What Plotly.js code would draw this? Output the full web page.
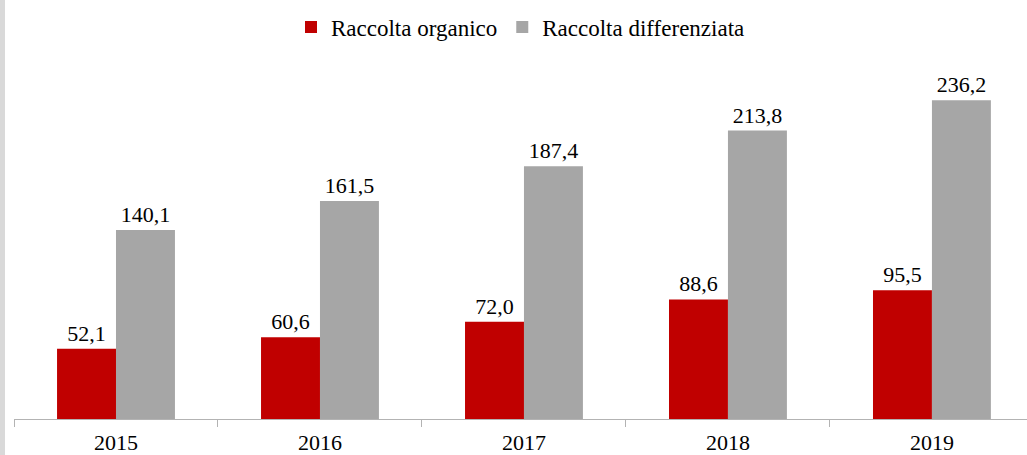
<!DOCTYPE html>
<html>
<head>
<meta charset="utf-8">
<script src="https://cdn.plot.ly/plotly-3.0.1.min.js"></script>
<style>
html, body { margin: 0; padding: 0; width: 1027px; height: 455px; overflow: hidden;
  background: linear-gradient(to right, #d9d9d9 0, #d9d9d9 5px, #ffffff 5px); }
#chart { width: 1027px; height: 455px; }
</style>
</head>
<body>
<div id="chart"></div>
<script>
const years = ["2015", "2016", "2017", "2018", "2019"];
const organico = [52.1, 60.6, 72.0, 88.6, 95.5];
const differenziata = [140.1, 161.5, 187.4, 213.8, 236.2];
const seriesNames = ["Raccolta organico", "Raccolta differenziata"];

const FONT = "Liberation Serif, DejaVu Serif, serif";

const traces = [
  {
    type: "bar", name: seriesNames[0], x: years, y: organico,
    marker: { color: "#c00000" },
    texttemplate: "%{y:.1f}", textposition: "outside", cliponaxis: false,
    textfont: { family: FONT, size: 22, color: "#000000" },
    hoverinfo: "skip"
  },
  {
    type: "bar", name: seriesNames[1], x: years, y: differenziata,
    marker: { color: "#a6a6a6" },
    texttemplate: "%{y:.1f}", textposition: "outside", cliponaxis: false,
    textfont: { family: FONT, size: 22, color: "#000000" },
    hoverinfo: "skip"
  }
];

const layout = {
  width: 1027, height: 455,
  margin: { l: 14, r: 0, t: 50, b: 36, pad: 0 },
  paper_bgcolor: "rgba(0,0,0,0)",
  plot_bgcolor: "rgba(0,0,0,0)",
  separators: ",.",
  barmode: "group",
  bargap: 0.422,
  bargroupgap: 0,
  font: { family: FONT, size: 22, color: "#000000" },
  showlegend: true,
  legend: {
    orientation: "h", x: 0.5, xanchor: "center", y: 1.062, yanchor: "middle",
    font: { family: FONT, size: 23, color: "#000000" },
    itemwidth: 30, tracegroupgap: 0
  },
  xaxis: {
    type: "category", range: [-0.5, 4.466],
    showline: true, linecolor: "#b3b3b3", linewidth: 1,
    ticks: "outside", tickson: "boundaries", ticklen: 7, tickcolor: "#b3b3b3", tickwidth: 1,
    ticklabelstandoff: 4,
    showgrid: false, zeroline: false,
    tickfont: { family: FONT, size: 22, color: "#000000" }
  },
  yaxis: {
    range: [0, 273.5], visible: false, showgrid: false, zeroline: false, fixedrange: true
  }
};

Plotly.newPlot("chart", traces, layout, { displayModeBar: false, staticPlot: true });
</script>
</body>
</html>
